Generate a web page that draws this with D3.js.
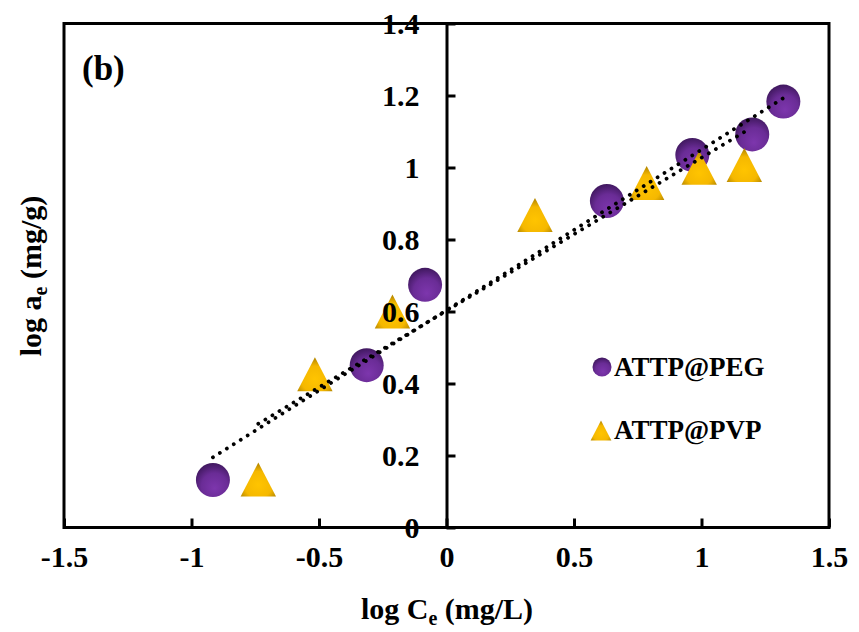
<!DOCTYPE html>
<html>
<head>
<meta charset="utf-8">
<script src="https://cdn.jsdelivr.net/npm/d3@7"></script>
<style>
  html, body { margin: 0; padding: 0; background: #fff; }
  svg { display: block; font-family: "Liberation Serif", "Times New Roman", serif; font-weight: bold; }
</style>
</head>
<body>
<svg id="chart" width="859" height="632"></svg>
<script>
// ---- data ----
const pegX = [-0.916, -0.313, -0.084, 0.629, 0.964, 1.199, 1.321];
const pegY = [0.132, 0.451, 0.674, 0.907, 1.035, 1.092, 1.183];
const pvpX = [-0.738, -0.516, -0.212, 0.347, 0.785, 0.991, 1.168];
const pvpY = [0.133, 0.426, 0.600, 0.868, 0.957, 0.999, 1.007];
const seriesNames = ["ATTP@PEG", "ATTP@PVP"];
const xTickValues = [-1.5, -1, -0.5, 0, 0.5, 1, 1.5];
const xTickLabels = ["-1.5", "-1", "-0.5", "0", "0.5", "1", "1.5"];
const yTickValues = [0, 0.2, 0.4, 0.6, 0.8, 1.0, 1.2, 1.4];
const yTickLabels = ["0", "0.2", "0.4", "0.6", "0.8", "1", "1.2", "1.4"];

// ---- layout ----
const svg = d3.select("#chart");
const x = d3.scaleLinear().domain([-1.5, 1.5]).range([64, 829]);
const y = d3.scaleLinear().domain([0, 1.4]).range([527.5, 23.5]);

const defs = svg.append("defs");
const cg = defs.append("radialGradient").attr("id", "gPurple")
  .attr("cx", "55%").attr("cy", "65%").attr("r", "65%").attr("fx", "55%").attr("fy", "75%");
cg.append("stop").attr("offset", "0%").attr("stop-color", "#7d36ad");
cg.append("stop").attr("offset", "60%").attr("stop-color", "#6a2c96");
cg.append("stop").attr("offset", "100%").attr("stop-color", "#40185f");
const tg = defs.append("radialGradient").attr("id", "gGold")
  .attr("cx", "50%").attr("cy", "65%").attr("r", "60%");
tg.append("stop").attr("offset", "0%").attr("stop-color", "#ffc400");
tg.append("stop").attr("offset", "65%").attr("stop-color", "#f5b800");
tg.append("stop").attr("offset", "100%").attr("stop-color", "#b98a00");

// markers
const triPath = (s) => `M0,${-s/2} L${s*0.52},${s/2} L${-s*0.52},${s/2} Z`;
svg.append("g").selectAll("circle")
  .data(pegX.map((v, i) => [v, pegY[i]]))
  .join("circle")
  .attr("cx", d => x(d[0])).attr("cy", d => y(d[1])).attr("r", 17)
  .attr("fill", "url(#gPurple)");
svg.append("g").selectAll("path")
  .data(pvpX.map((v, i) => [v, pvpY[i]]))
  .join("path")
  .attr("transform", d => `translate(${x(d[0])},${y(d[1])})`)
  .attr("d", triPath(34))
  .attr("fill", "url(#gGold)");

// frame
svg.append("rect")
  .attr("x", x(-1.5)).attr("y", y(1.4))
  .attr("width", x(1.5) - x(-1.5)).attr("height", y(0) - y(1.4))
  .attr("fill", "none").attr("stroke", "#000").attr("stroke-width", 3);

// x axis
const xAxis = d3.axisBottom(x)
  .tickValues(xTickValues)
  .tickFormat((d, i) => xTickLabels[i])
  .tickSizeInner(-9).tickSizeOuter(0).tickPadding(30);
const gx = svg.append("g").attr("transform", `translate(0,${y(0)})`).call(xAxis);
gx.select(".domain").remove();
gx.selectAll("line").attr("stroke", "#000").attr("stroke-width", 3);
gx.selectAll("text").attr("font-size", 30).attr("font-family", "Liberation Serif")
  .attr("font-weight", "bold").attr("fill", "#000").attr("dy", "0.33em");

// y axis at x = 0
const yAxis = d3.axisLeft(y)
  .tickValues(yTickValues)
  .tickFormat((d, i) => yTickLabels[i])
  .tickSizeInner(-9).tickSizeOuter(0).tickPadding(27);
const gy = svg.append("g").attr("transform", `translate(${x(0)},0)`).call(yAxis);
gy.select(".domain").attr("stroke", "#000").attr("stroke-width", 3);
gy.selectAll("line").attr("stroke", "#000").attr("stroke-width", 3);
gy.selectAll("text").attr("font-size", 30).attr("font-family", "Liberation Serif")
  .attr("font-weight", "bold").attr("fill", "#000");

// linear trend lines (dotted)
function fit(xs, ys) {
  const mx = d3.mean(xs), my = d3.mean(ys);
  const sxy = d3.sum(xs, (v, i) => (v - mx) * (ys[i] - my));
  const sxx = d3.sum(xs, v => (v - mx) * (v - mx));
  const b = sxy / sxx, a = my - b * mx;
  const x0 = d3.min(xs), x1 = d3.max(xs);
  return [[x0, a + b * x0], [x1, a + b * x1]];
}
const line = d3.line().x(d => x(d[0])).y(d => y(d[1]));
[fit(pegX, pegY), fit(pvpX, pvpY)].forEach(pts => {
  svg.append("path").attr("d", line(pts))
    .attr("fill", "none").attr("stroke", "#000").attr("stroke-width", 3.8)
    .attr("stroke-linecap", "round").attr("stroke-dasharray", "0.01 8.2");
});

// legend
const lg = svg.append("g");
lg.append("circle").attr("cx", 602).attr("cy", 367).attr("r", 9.5).attr("fill", "url(#gPurple)");
lg.append("text").attr("x", 614).attr("y", 376).attr("font-size", 27).text(seriesNames[0]);
lg.append("path").attr("transform", "translate(601,430.5)").attr("d", triPath(20)).attr("fill", "url(#gGold)");
lg.append("text").attr("x", 614).attr("y", 439).attr("font-size", 27).text(seriesNames[1]);

// panel label
svg.append("text").attr("x", 82).attr("y", 80).attr("font-size", 35).text("(b)");

// axis titles
const xt = svg.append("text").attr("x", 447).attr("y", 619).attr("text-anchor", "middle").attr("font-size", 30);
xt.append("tspan").text("log C");
xt.append("tspan").attr("font-size", 20).attr("dy", 6).text("e");
xt.append("tspan").attr("dy", -6).text(" (mg/L)");

const yt = svg.append("text").attr("transform", "translate(41,276) rotate(-90)")
  .attr("text-anchor", "middle").attr("font-size", 30);
yt.append("tspan").text("log a");
yt.append("tspan").attr("font-size", 20).attr("dy", 6).text("e");
yt.append("tspan").attr("dy", -6).text(" (mg/g)");
</script>
</body>
</html>
